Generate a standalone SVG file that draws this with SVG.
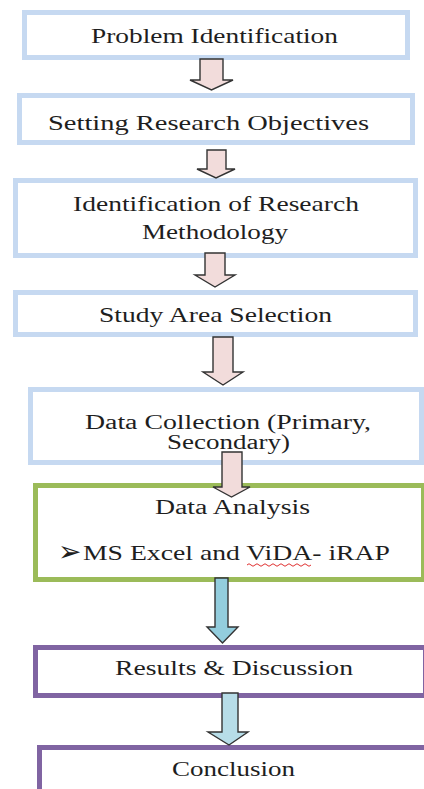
<svg xmlns="http://www.w3.org/2000/svg" width="424" height="789" viewBox="0 0 424 789">
<style>
  .bg { fill: #ffffff; }
  .box { fill: #ffffff; stroke-width: 5; }
  .blue { stroke: #c6d9f1; }
  .green { stroke: #9bbb59; }
  .purple { stroke: #8064a2; }
  .t { font-family: 'Liberation Serif', 'DejaVu Serif', serif; fill: #1e1e1e; }
  .pink { fill: #f2dcdb; stroke: #333333; stroke-width: 1.4; stroke-linejoin: miter; }
  .cyan { fill: #93cddd; stroke: #333333; stroke-width: 1.4; }
  .cyan2 { fill: #b7dde8; stroke: #333333; stroke-width: 1.4; }
</style>
<rect class="bg" x="0" y="0" width="424" height="789"/>

<g id="node-problem">
  <rect class="box blue" x="24.5" y="12.5" width="383" height="45"/>
  <text class="t" x="91" y="43" font-size="21" textLength="247" lengthAdjust="spacingAndGlyphs">Problem Identification</text>
</g>
<g id="node-objectives">
  <rect class="box blue" x="19.5" y="95.5" width="393" height="47"/>
  <text class="t" x="48" y="130" font-size="22" textLength="321" lengthAdjust="spacingAndGlyphs">Setting Research Objectives</text>
</g>
<g id="node-methodology">
  <rect class="box blue" x="15.5" y="180.5" width="400" height="75"/>
  <text class="t" x="73" y="210.5" font-size="22" textLength="286" lengthAdjust="spacingAndGlyphs">Identification of Research</text>
  <text class="t" x="142" y="239" font-size="22" textLength="146" lengthAdjust="spacingAndGlyphs">Methodology</text>
</g>
<g id="node-study-area">
  <rect class="box blue" x="15.5" y="292.5" width="400" height="42"/>
  <text class="t" x="99" y="321.5" font-size="22" textLength="233" lengthAdjust="spacingAndGlyphs">Study Area Selection</text>
</g>
<g id="node-data-collection">
  <rect class="box blue" x="30.5" y="389.5" width="391" height="73"/>
  <text class="t" x="85" y="429" font-size="20" textLength="286" lengthAdjust="spacingAndGlyphs">Data Collection (Primary,</text>
  <text class="t" x="167" y="449" font-size="20" textLength="123" lengthAdjust="spacingAndGlyphs">Secondary)</text>
</g>
<g id="node-data-analysis">
  <rect class="box green" x="35.5" y="485.5" width="388" height="94"/>
  <text class="t" x="155" y="514" font-size="20" textLength="155" lengthAdjust="spacingAndGlyphs">Data Analysis</text>
  <text x="58" y="561" font-family="DejaVu Sans, sans-serif" font-size="28" fill="#1e1e1e">➢</text>
  <text class="t" x="83" y="560" font-size="21" textLength="307" lengthAdjust="spacingAndGlyphs">MS Excel and ViDA- iRAP</text>
  <path d="M247,565 q2,-2.5 4,0 t4,0 t4,0 t4,0 t4,0 t4,0 t4,0 t4,0 t4,0 t4,0 t4,0 t4,0 t4,0 t4,0 t4,0 t4,0" fill="none" stroke="#e03030" stroke-width="1"/>
</g>
<g id="node-results">
  <rect class="box purple" x="35.5" y="647.5" width="390" height="48"/>
  <text class="t" x="115" y="675" font-size="21" textLength="238" lengthAdjust="spacingAndGlyphs">Results &amp; Discussion</text>
</g>
<g id="node-conclusion">
  <rect class="box purple" x="39.5" y="747.5" width="390" height="50"/>
  <text class="t" x="172" y="776" font-size="21" textLength="123" lengthAdjust="spacingAndGlyphs">Conclusion</text>
</g>

<g id="connectors">
  <polygon class="pink" points="200,59 223,59 223,80 233,80 211.5,90 190,80 200,80"/>
  <polygon class="pink" points="207,150 226,150 226,169 235,169 216,178 197,169 207,169"/>
  <polygon class="pink" points="205,253 225,253 225,275 235,275 215,287 195,275 205,275"/>
  <polygon class="pink" points="213,337 233,337 233,372 243,372 223,385 203,372 213,372"/>
  <polygon class="pink" points="222,452 242,452 242,487 250,487 231.5,497 213,487 222,487"/>
  <polygon class="cyan" points="215,578 228,578 228,627 238,627 222.5,643 207,627 215,627"/>
  <polygon class="cyan2" points="222,693 238,693 238,732 248,732 229,745 208,732 222,732"/>
</g>
</svg>
